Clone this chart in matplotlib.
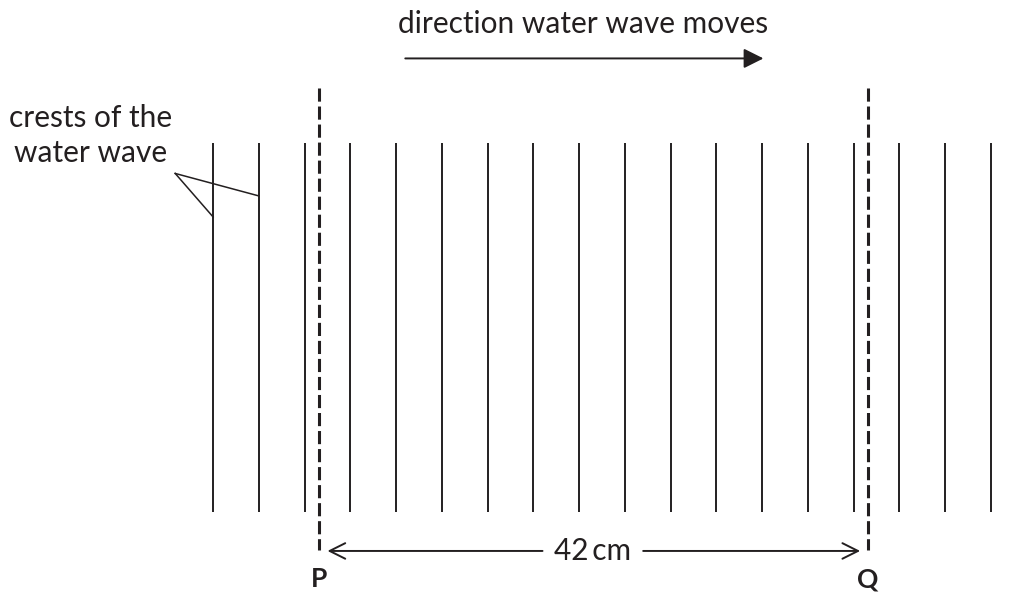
import matplotlib.pyplot as plt

# all lengths in cm, P at x = 0, bottom of the crest lines at y = 0
crest_x = [-8.1, -4.6, -1.1, 2.4, 5.9, 9.4, 12.9, 16.4, 19.9, 23.4,
           26.9, 30.4, 33.9, 37.4, 40.9, 44.4, 47.9, 51.4]
crest_top = 28.2
crest_bottom = 0.0
marker_x = [0.0, 42.0]          # P and Q
marker_labels = ["P", "Q"]
distance = 42
direction_text = "direction water wave moves"
crest_label = ["crests of the", "water wave"]

px = 549 / 42.0                 # pixels per cm in the picture
fonts = ["Lato", "DejaVu Sans"]
fs = 21.5

fig = plt.figure(figsize=(10.34, 5.94), dpi=100)
ax = fig.add_axes([0, 0, 1, 1])
ax.set_xlim(-319 / px, (1034 - 319) / px)
ax.set_ylim(-(594 - 512) / px, 512 / px)
ax.axis("off")

# crests
for x in crest_x:
    ax.plot([x, x], [crest_bottom, crest_top], color="#231f20", lw=1.4,
            solid_capstyle="butt")

# dashed lines through P and Q
for x, lab in zip(marker_x, marker_labels):
    ax.plot([x, x], [32.4, -2.9], color="#231f20", lw=2.2,
            dashes=(4.3, 1.6), dash_capstyle="butt")
    ax.text(x, -5.15, lab, ha="center", va="center", fontsize=19,
            fontweight="bold", family=fonts, color="#231f20")

# 42 cm measurement
y_dim = -2.98
mid = sum(marker_x) / 2
arrow_kw = dict(arrowstyle="->", lw=1.4, color="#231f20",
                mutation_scale=28, shrinkA=0, shrinkB=0)
ax.annotate("", xy=(marker_x[0] + 0.65, y_dim), xytext=(mid - 3.9, y_dim),
            arrowprops=arrow_kw)
ax.annotate("", xy=(marker_x[1] - 0.6, y_dim), xytext=(mid + 3.8, y_dim),
            arrowprops=arrow_kw)
ax.text(mid - 0.1, y_dim, f"{distance}\u2009cm", ha="center", va="center",
        fontsize=fs, family=fonts, color="#231f20")

# direction of travel
ax.annotate("", xy=(34.0, 34.7), xytext=(6.6, 34.7),
            arrowprops=dict(arrowstyle="-|>", lw=1.4, color="#231f20",
                            mutation_scale=30, shrinkA=0, shrinkB=0))
ax.text(20.2, 37.3, direction_text, ha="center", va="center",
        fontsize=fs, family=fonts, color="#231f20")

# label for the crests with leader lines
ax.text(-17.45, 30.14, crest_label[0], ha="center", va="center",
        fontsize=fs, family=fonts, color="#231f20")
ax.text(-17.45, 27.47, crest_label[1], ha="center", va="center",
        fontsize=fs, family=fonts, color="#231f20")
apex = (-11.0, 25.9)
for x, y in [(crest_x[0], 22.57), (crest_x[1], 24.18)]:
    ax.plot([apex[0], x], [apex[1], y], color="#231f20", lw=1.1)

fig.savefig("out.png", dpi=100)
